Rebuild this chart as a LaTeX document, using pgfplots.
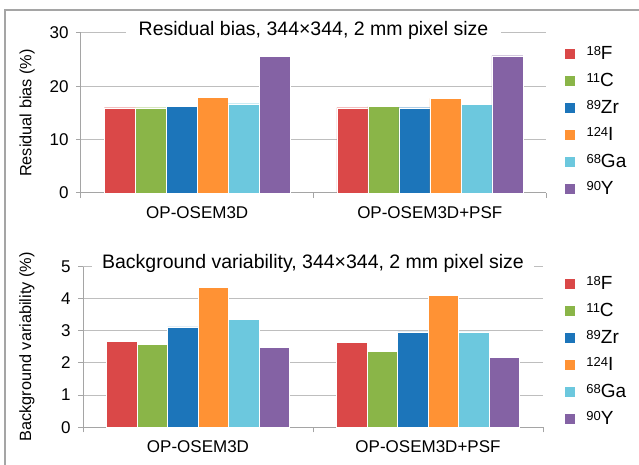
\documentclass[border=0pt]{standalone}
\usepackage{fontspec}
\setmainfont{Liberation Sans}
\usepackage{pgfplots}
\pgfplotsset{compat=1.18}
\definecolor{cF}{RGB}{218,72,72}
\definecolor{cC}{RGB}{138,181,72}
\definecolor{cZr}{RGB}{28,117,186}
\definecolor{cI}{RGB}{255,146,52}
\definecolor{cGa}{RGB}{108,200,222}
\definecolor{cY}{RGB}{132,98,164}
\definecolor{gridc}{RGB}{190,190,190}
\definecolor{axc}{RGB}{165,165,165}
\newcommand{\iso}[2]{\fontsize{19}{19}\selectfont{\fontsize{13}{13}\selectfont\raisebox{4pt}{#1}}#2}
\pgfplotsset{
  mybars/.style={
    scale only axis,
    ybar=0pt,
    xmin=-0.5, xmax=1.5,
    ymin=0,
    enlargelimits=false,
    axis lines*=left,
    axis line style={draw=axc, line width=1pt, -},
    tick align=outside,
    xtick={0,1},
    xticklabels={OP-OSEM3D,OP-OSEM3D+PSF},
    xtick style={draw=none},
    minor xtick={-0.5,0.5,1.5},
    minor tick length=5pt,
    major tick length=5pt,
    minor x tick style={draw=axc, line width=1pt},
    ytick style={draw=axc, line width=1pt},
    ymajorgrids,
    grid style={draw=gridc, line width=1pt},
    /pgf/number format/assume math mode=true,
    tick label style={font=\fontsize{17}{20}\selectfont},
    yticklabel style={xshift=-4pt},
    xticklabel style={yshift=-5pt},
    ylabel style={font=\fontsize{16.3}{18}\selectfont, anchor=center},
    title style={font=\fontsize{19.5}{22}\selectfont, fill=white, inner xsep=13pt, inner ysep=2pt, text height=14pt, text depth=0pt, anchor=center},
    legend cell align=left,
    legend image code/.code={\fill[##1,draw=none] (0pt,-5pt) rectangle (10pt,5pt);},
    legend style={anchor=north west, draw=none, fill=none, inner sep=0pt, outer sep=0pt,
      row sep=16.5pt, column sep=11.5pt,
      nodes={inner sep=0pt, text height=10.5pt, text depth=0pt}},
  }
}
\begin{document}
\begin{tikzpicture}
\useasboundingbox (0pt,0pt) rectangle (639pt,-465pt);
\draw[color=axc, line width=1.5pt] (5pt,-465pt) -- (5pt,-10pt) -- (639pt,-10pt);
\begin{axis}[mybars,
  at={(81pt,-193pt)}, anchor=south west,
  width=465pt, height=160pt,
  bar width=31pt,
  ymax=30, ytick={0,10,20,30},
  ylabel={Residual bias (\%)},
  ylabel style={at={(axis description cs:-0.116,0.5)}},
  title={Residual bias, 344×344, 2 mm pixel size},
  title style={at={(axis description cs:0.5,0.992)}},
  legend style={at={(axis description cs:1.0409,0.9)}},
]
\addplot[fill=cF, draw=white, line width=0.3pt] coordinates {(0,16.0) (1,16.0)};
\addplot[fill=cC, draw=white, line width=0.3pt] coordinates {(0,16.0) (1,16.25)};
\addplot[fill=cZr, draw=white, line width=0.3pt] coordinates {(0,16.2) (1,16.0)};
\addplot[fill=cI, draw=white, line width=0.3pt] coordinates {(0,17.9) (1,17.75)};
\addplot[fill=cGa, draw=white, line width=0.3pt] coordinates {(0,16.75) (1,16.6)};
\addplot[fill=cY, draw=white, line width=0.3pt] coordinates {(0,25.6) (1,25.75)};
\legend{\iso{18}{F},\iso{11}{C},\iso{89}{Zr},\iso{124}{I},\iso{68}{Ga},\iso{90}{Y}}
\end{axis}
\begin{axis}[mybars,
  at={(83pt,-427.3pt)}, anchor=south west,
  width=460pt, height=160.8pt,
  bar width=30.5pt,
  ymax=5, ytick={0,1,2,3,4,5},
  ylabel={Background variability (\%)},
  ylabel style={at={(axis description cs:-0.1217,0.5)}},
  title={Background variability, 344×344, 2 mm pixel size},
  title style={at={(axis description cs:0.5,0.992)}, inner xsep=10pt},
  legend style={at={(axis description cs:1.0478,0.922)}},
]
\addplot[fill=cF, draw=white, line width=0.3pt] coordinates {(0,2.68) (1,2.64)};
\addplot[fill=cC, draw=white, line width=0.3pt] coordinates {(0,2.58) (1,2.36)};
\addplot[fill=cZr, draw=white, line width=0.3pt] coordinates {(0,3.12) (1,2.97)};
\addplot[fill=cI, draw=white, line width=0.3pt] coordinates {(0,4.36) (1,4.11)};
\addplot[fill=cGa, draw=white, line width=0.3pt] coordinates {(0,3.35) (1,2.97)};
\addplot[fill=cY, draw=white, line width=0.3pt] coordinates {(0,2.48) (1,2.17)};
\legend{\iso{18}{F},\iso{11}{C},\iso{89}{Zr},\iso{124}{I},\iso{68}{Ga},\iso{90}{Y}}
\end{axis}
\end{tikzpicture}
\end{document}
